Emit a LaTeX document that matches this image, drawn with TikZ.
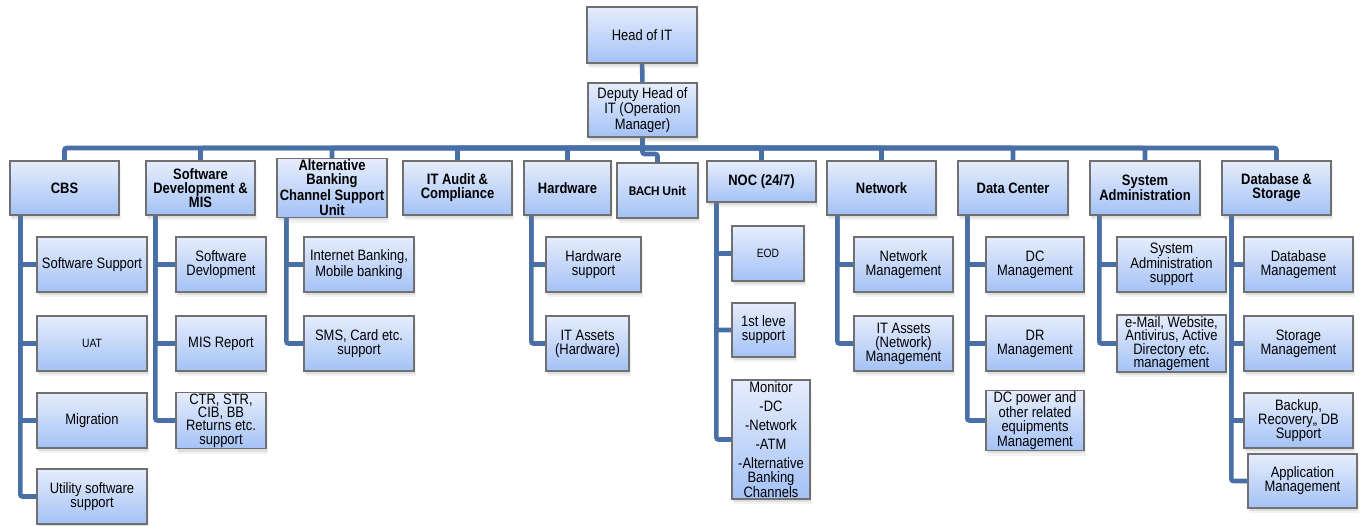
\documentclass[tikz,border=0pt]{standalone}
\usepackage{fontspec}
\setmainfont{Liberation Sans}[FakeStretch=0.86]
\newfontfamily\calfont{Carlito}
\usetikzlibrary{shadows,backgrounds}
\newcommand\pxu{0.75pt}
\definecolor{linkblue}{RGB}{72,112,166}
\definecolor{boxtop}{RGB}{230,237,252}
\definecolor{boxbot}{RGB}{164,194,246}
\definecolor{boxedge}{RGB}{112,112,112}
\tikzset{
  softshadow/.style={drop shadow={opacity=0.10, shadow xshift=1.2pt, shadow yshift=-4pt},
                     drop shadow={opacity=0.18, shadow xshift=0.6pt, shadow yshift=-2pt}},
  box/.style={draw=boxedge, line width=0.9pt, top color=boxtop, bottom color=boxbot,
              align=center, inner sep=1pt, font=\fontsize{11.3}{10.5}\selectfont, softshadow},
  unit/.style={box, font=\fontsize{11.3}{10.5}\selectfont\bfseries},
  small/.style={font=\fontsize{9}{10}\selectfont},
  wh/.style 2 args={minimum width=#1*\pxu, minimum height=#2*\pxu},
  conn/.style={draw=linkblue, line width=3.4pt, rounded corners=1.5pt},
}
\begin{document}
\begin{tikzpicture}[x=\pxu, y=-\pxu]
\useasboundingbox (0,0) rectangle (1364,525);

% management
\node[box, wh={110}{56}] (head) at (642,35) {Head of IT};
\node[box, wh={109}{54}] (dep) at (642.5,110) {Deputy Head of\\IT (Operation\\Manager)};
\coordinate (bus) at (642.5,148);

% units
\node[unit, wh={109}{54}] (cbs) at (64.5,188) {CBS};
\node[unit, wh={109}{54}] (sdm) at (200.5,188) {Software\\Development \&\\MIS};
\node[unit, wh={110}{54}] (abc) at (332,188) {Alternative\\Banking\\Channel Support\\Unit};
\node[unit, wh={109}{54}] (aud) at (457.5,188) {IT Audit \&\\Compliance};
\node[unit, wh={87}{54}] (hw) at (567.5,188) {Hardware};
\node[unit, wh={81}{55}, font=\fontsize{10}{10}\calfont\bfseries] (bach) at (657.5,190.5) {BACH Unit};
\node[unit, wh={109}{41}] (noc) at (761.5,181.5) {NOC (24/7)};
\node[unit, wh={109}{54}] (net) at (881.5,188) {Network};
\node[unit, wh={110}{54}] (dc) at (1013,188) {Data Center};
\node[unit, wh={110}{54}] (sa) at (1145,188) {System\\Administration};
\node[unit, wh={109}{54}] (db) at (1276.5,188) {Database \&\\Storage};

% CBS
\node[box, wh={110}{55}] (cbs1) at (92,264.5) {Software Support};
\node[box, wh={110}{55}, small] (cbs2) at (92,343.5) {UAT};
\node[box, wh={110}{55}] (cbs3) at (92,420.5) {Migration};
\node[box, wh={110}{55}] (cbs4) at (92,496.5) {Utility software\\support};

% Software Development & MIS
\node[box, wh={90}{55}] (sdm1) at (221,264.5) {Software\\Devlopment};
\node[box, wh={90}{55}] (sdm2) at (221,343.5) {MIS Report};
\node[box, wh={90}{55}, font=\fontsize{11.3}{10.1}\selectfont] (sdm3) at (221,420.5) {CTR, STR,\\CIB, BB\\Returns etc.\\support};

% Alternative Banking Channel Support Unit
\node[box, wh={110}{55}] (abc1) at (359,264.5) {Internet Banking,\\Mobile banking};
\node[box, wh={110}{55}] (abc2) at (359,343.5) {SMS, Card etc.\\support};

% Hardware
\node[box, wh={95}{55}] (hw1) at (593.5,264.5) {Hardware\\support};
\node[box, wh={83}{55}] (hw2) at (587.5,343.5) {IT Assets\\(Hardware)};

% NOC
\node[box, wh={72}{55}, small] (noc1) at (768,253.5) {EOD};
\node[box, wh={63}{54}] (noc2) at (763.5,330) {1st leve\\support};
\node[box, wh={78}{119}] (noc3) at (771,439.5) {Monitor\\[3.7pt]-DC\\[3.7pt]-Network\\[3.7pt]-ATM\\[3.7pt]-Alternative\\Banking\\Channels};

% Network
\node[box, wh={99}{55}] (net1) at (903.5,264.5) {Network\\Management};
\node[box, wh={99}{55}] (net2) at (903.5,343.5) {IT Assets\\(Network)\\Management};

% Data Center
\node[box, wh={98}{55}] (dc1) at (1035,264.5) {DC\\Management};
\node[box, wh={98}{55}] (dc2) at (1035,343.5) {DR\\Management};
\node[box, wh={98}{55}, font=\fontsize{11.3}{10.1}\selectfont] (dc3) at (1035,420.5) {DC power and\\other related\\equipments\\Management};

% System Administration
\node[box, wh={109}{55}] (sa1) at (1171.5,264.5) {System\\Administration\\support};
\node[box, wh={109}{55}, font=\fontsize{11.3}{10.1}\selectfont] (sa2) at (1171.5,343.5) {e-Mail, Website,\\Antivirus, Active\\Directory etc.\\management};

% Database & Storage
\node[box, wh={109}{55}] (db1) at (1298.5,264.5) {Database\\Management};
\node[box, wh={109}{55}] (db2) at (1298.5,343.5) {Storage\\Management};
\node[box, wh={109}{55}] (db3) at (1298.5,420.5) {Backup,\\Recovery,, DB\\Support};
\node[box, wh={109}{54}] (db4) at (1302.5,481) {Application\\Management};

\begin{scope}[on background layer]
  \draw[conn] (head) -- (dep);
  \draw[conn] (dep.south) -- (bus);
  \foreach \n in {cbs,sdm,abc,aud,hw,noc,net,dc,sa,db}
    \draw[conn] (bus) -| (\n.north);
  \draw[conn] (bus) -- ++(0,6) -| (bach.north);
  \foreach \n in {cbs1,cbs2,cbs3,cbs4}
    \draw[conn] ([xshift=11*\pxu]cbs.south west) |- (\n.west);
  \foreach \n in {sdm1,sdm2,sdm3}
    \draw[conn] ([xshift=10*\pxu]sdm.south west) |- (\n.west);
  \foreach \n in {abc1,abc2}
    \draw[conn] ([xshift=10*\pxu]abc.south west) |- (\n.west);
  \foreach \n in {hw1,hw2}
    \draw[conn] ([xshift=8*\pxu]hw.south west) |- (\n.west);
  \foreach \n in {noc1,noc2,noc3}
    \draw[conn] ([xshift=10*\pxu]noc.south west) |- (\n.west);
  \foreach \n in {net1,net2}
    \draw[conn] ([xshift=11*\pxu]net.south west) |- (\n.west);
  \foreach \n in {dc1,dc2,dc3}
    \draw[conn] ([xshift=10*\pxu]dc.south west) |- (\n.west);
  \foreach \n in {sa1,sa2}
    \draw[conn] ([xshift=10*\pxu]sa.south west) |- (\n.west);
  \foreach \n in {db1,db2,db3,db4}
    \draw[conn] ([xshift=10*\pxu]db.south west) |- (\n.west);
\end{scope}
\end{tikzpicture}
\end{document}
